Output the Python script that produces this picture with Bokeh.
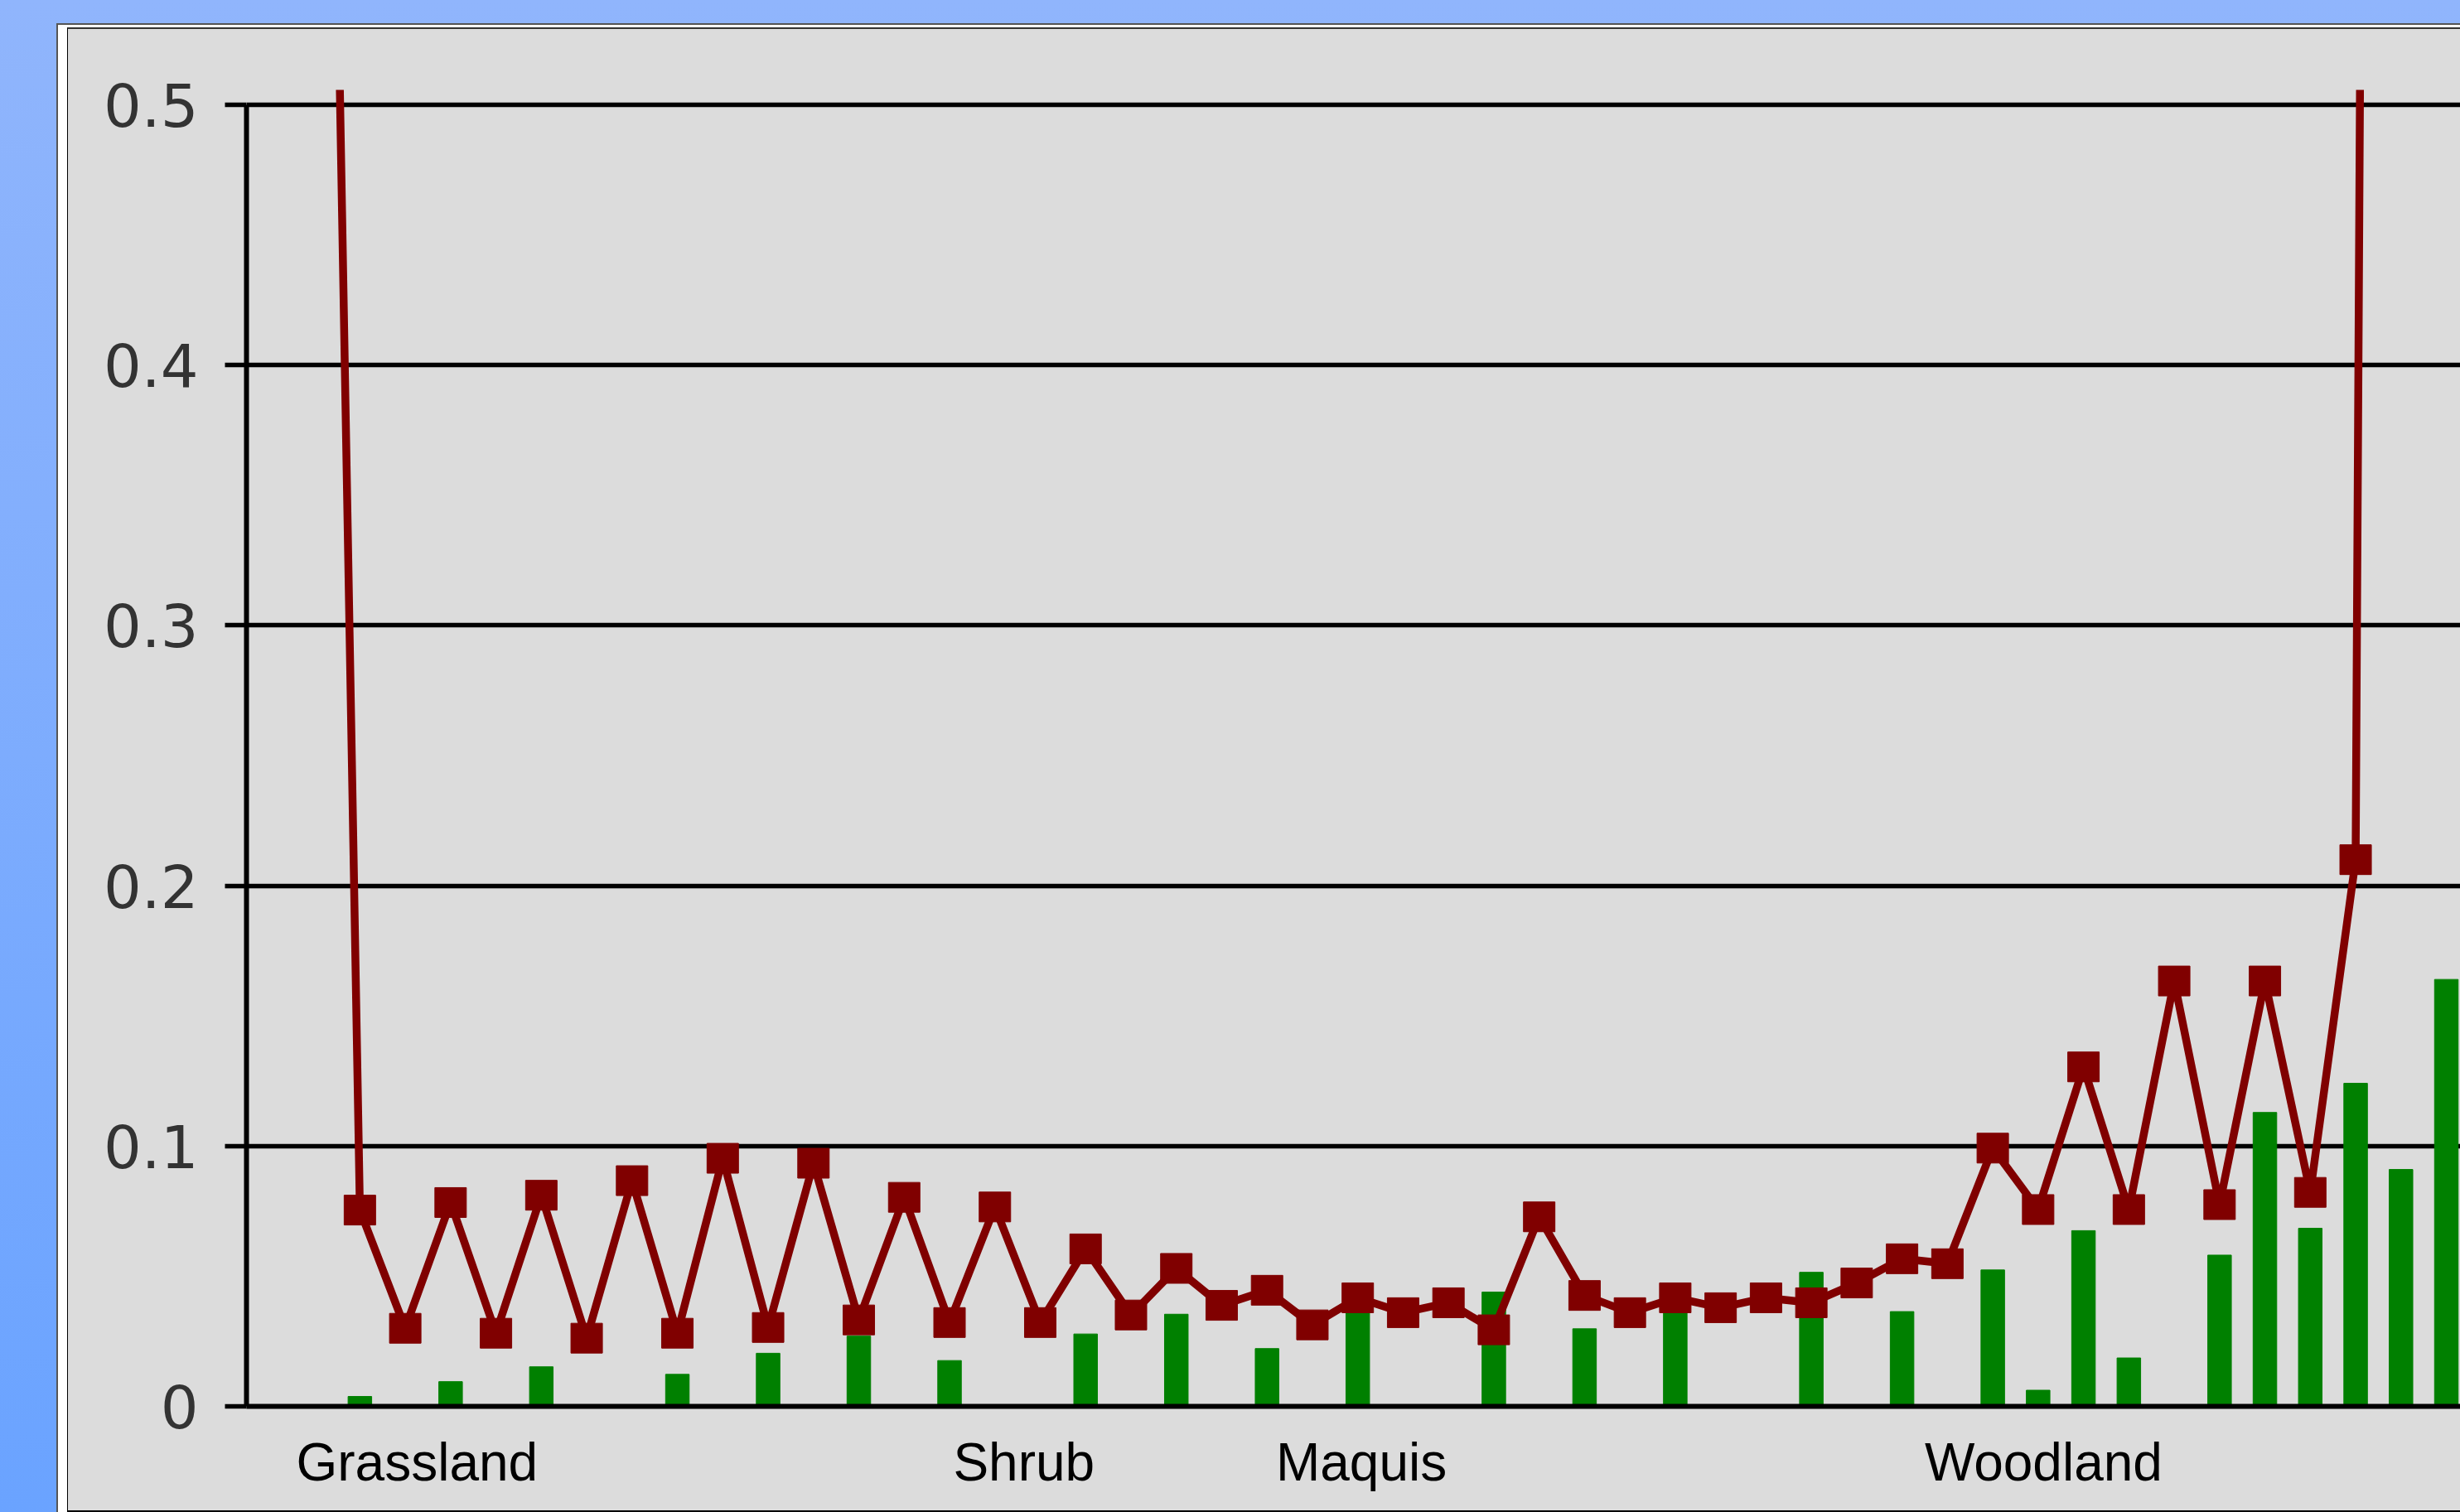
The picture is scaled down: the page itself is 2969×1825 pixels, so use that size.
from bokeh.plotting import figure
from bokeh.models import FixedTicker, Range1d, GlobalInlineStyleSheet
from bokeh.embed import file_html
from bokeh.resources import INLINE

# ---------------- data ----------------
line_values = [1.05, 0.0754, 0.030, 0.0783, 0.0281, 0.0811, 0.0262, 0.0867, 0.0281,
               0.0953, 0.0303, 0.0934, 0.0332, 0.0803, 0.0322, 0.0766, 0.0322, 0.0605,
               0.0351, 0.053, 0.0388, 0.0446, 0.0313, 0.0417, 0.036, 0.0398, 0.0294,
               0.0728, 0.0426, 0.036, 0.0417, 0.0379, 0.0417, 0.0398, 0.0474, 0.0567,
               0.0548, 0.0992, 0.0756, 0.1304, 0.0756, 0.1634, 0.0775, 0.1634, 0.0822,
               0.210, 3.3]
line_index = list(range(len(line_values)))

bar_index = [1, 3, 5, 8, 10, 12, 14, 17, 19, 21, 23, 26, 28, 30, 33, 35, 37, 38, 39,
             40, 42, 43, 44, 45, 46, 47]
bar_values = [0.0038, 0.0095, 0.0152, 0.0123, 0.0204, 0.027, 0.0176, 0.0278, 0.0354,
              0.0222, 0.040, 0.0439, 0.0298, 0.040, 0.0515, 0.0364, 0.0524, 0.0062,
              0.0675, 0.0186, 0.0581, 0.1129, 0.0684, 0.1241, 0.091, 0.164]

group_names = ["Grassland", "Shrub", "Maquis", "Woodland"]
group_positions = [2.26, 15.64, 23.08, 38.12]

y_ticks = [0, 0.1, 0.2, 0.3, 0.4, 0.5]
y_tick_labels = ["0", "0.1", "0.2", "0.3", "0.4", "0.5"]

# ---------------- page styling ----------------
css = """
html { min-height: 100%; background: linear-gradient(to bottom, #90b5fc 0%, #6aa3ff 100%) fixed; }
body::before { content: ""; position: fixed; left: 68px; top: 28px; right: -20px; bottom: -20px;
  background: #ffffff; border-left: 2px solid #555555; border-top: 2px solid #555555; z-index: -2; }
body::after { content: ""; position: fixed; left: 81px; top: 33px; right: -20px; bottom: 0px;
  background: #dcdcdc; border-left: 1px solid #000000; border-top: 2px solid #333333;
  border-bottom: 2px solid #000000; z-index: -1; }
"""

p = figure(width=2969, height=1825, output_backend="svg", toolbar_location=None,
           x_range=Range1d(-1.5, 47.31), y_range=Range1d(0, 0.5057))
p.stylesheets = [GlobalInlineStyleSheet(css=css)]
p.min_border_left = 297
p.min_border_top = 108
p.min_border_bottom = 128
p.min_border_right = 0
p.border_fill_color = None
p.background_fill_color = None
p.outline_line_color = None

# glyphs
p.vbar(x=bar_index, top=bar_values, width=0.52, color="#008000")
p.line(line_index, line_values, line_width=9.5, color="#800000")
p.rect(line_index, line_values, width=38, height=36, width_units="screen",
       height_units="screen", color="#800000")

# y axis
yax = p.yaxis[0]
yax.ticker = FixedTicker(ticks=y_ticks)
yax.major_label_overrides = {t: l for t, l in zip(y_ticks, y_tick_labels)}
yax.bounds = (0, 0.5)
yax.axis_line_color = "black"
yax.axis_line_width = 6
yax.major_tick_line_color = "black"
yax.major_tick_line_width = 5.5
yax.major_tick_out = 26
yax.major_tick_in = 0
yax.minor_tick_line_color = None
yax.major_label_text_font = "DejaVu Sans"
yax.major_label_text_font_size = "72px"
yax.major_label_text_color = "#333333"
yax.major_label_standoff = 32

# x axis with group labels
xax = p.xaxis[0]
xax.ticker = FixedTicker(ticks=group_positions)
xax.major_label_overrides = {t: n for t, n in zip(group_positions, group_names)}
xax.axis_line_color = "black"
xax.axis_line_width = 6
xax.major_tick_line_color = None
xax.minor_tick_line_color = None
xax.major_tick_out = 0
xax.major_tick_in = 0
xax.major_label_text_font = "Liberation Sans"
xax.major_label_text_font_size = "64px"
xax.major_label_text_color = "black"
xax.major_label_standoff = 31

# grid
p.xgrid.visible = False
p.ygrid.ticker = FixedTicker(ticks=y_ticks)
p.ygrid.grid_line_color = "black"
p.ygrid.grid_line_width = 5.5

open("out.html", "w").write(file_html(p, INLINE))
